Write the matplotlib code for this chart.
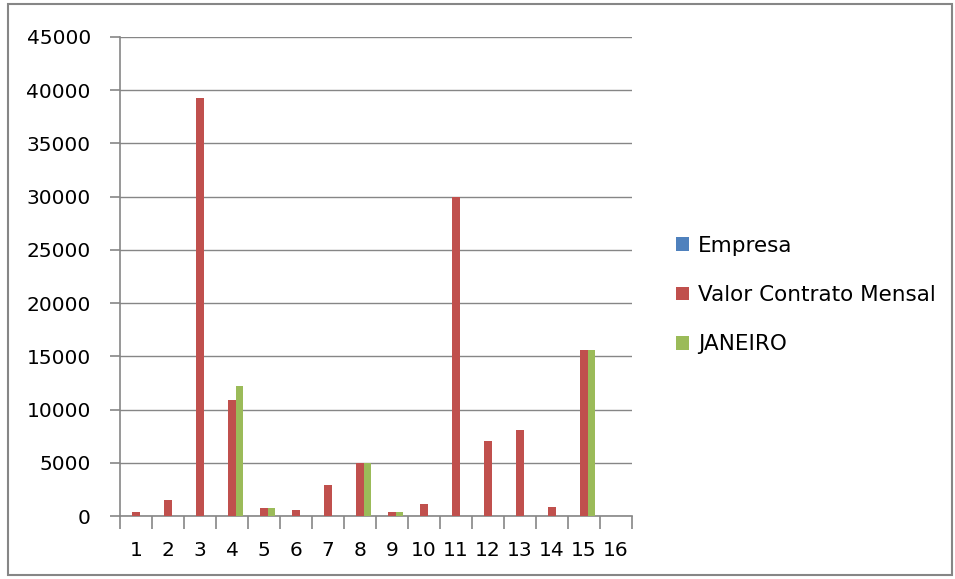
import numpy as np
import matplotlib
matplotlib.use("Agg")
import matplotlib.pyplot as plt
from matplotlib.patches import Rectangle

plt.rcParams['font.family'] = ['DejaVu Sans']

categories = [str(i) for i in range(1, 17)]
empresa = [0] * 16
valor_contrato = [400, 1500, 39300, 10900, 750, 580, 2950, 4950, 400, 1150,
                  30000, 7000, 8100, 850, 15550, 0]
janeiro = [0, 0, 0, 12200, 750, 0, 0, 4950, 400, 0,
           0, 0, 0, 0, 15550, 0]

series = [("Empresa", empresa, "#4F81BD"),
          ("Valor Contrato Mensal", valor_contrato, "#C0504D"),
          ("JANEIRO", janeiro, "#9BBB59")]

fig = plt.figure(figsize=(9.55, 5.79), dpi=100)
ax = fig.add_axes([120 / 955, 1 - 516 / 579, 512 / 955, 479 / 579])

x = np.arange(len(categories))
w = 0.235
for i, (name, vals, col) in enumerate(series):
    ax.bar(x + (i - 1) * w, vals, width=w, color=col, label=name, zorder=3)

grid_col = "#868686"
ax.set_ylim(0, 45000)
ax.set_yticks(np.arange(0, 45001, 5000))
ax.set_xlim(-0.5, len(categories) - 0.5)
ax.set_xticks(x)
ax.set_xticklabels(categories)
ax.set_xticks(np.arange(-0.5, len(categories)), minor=True)
ax.yaxis.grid(True, color=grid_col, linewidth=1, zorder=0)
for s in ["top", "right"]:
    ax.spines[s].set_visible(False)
for s in ["left", "bottom"]:
    ax.spines[s].set_color(grid_col)
    ax.spines[s].set_linewidth(1.2)
ax.tick_params(axis="x", which="major", length=0, labelsize=14.5, pad=18)
ax.tick_params(axis="x", which="minor", length=9, color=grid_col, width=1.2)
ax.tick_params(axis="y", length=7, color=grid_col, width=1.2, labelsize=14.5, pad=14)

ax.legend(loc="center left", frameon=False, fontsize=15.5,
          handlelength=0.6, handleheight=0.6, handletextpad=0.4,
          labelspacing=1.36)
leg = ax.get_legend()
leg.set_bbox_to_anchor((657 / 955, 1 - 295 / 579), transform=fig.transFigure)

fig.patches.append(Rectangle((8 / 955, 4 / 579), 944 / 955, 571 / 579,
                             transform=fig.transFigure, fill=False,
                             edgecolor="#868686", linewidth=1.5))

fig.savefig("out.png", dpi=100)
